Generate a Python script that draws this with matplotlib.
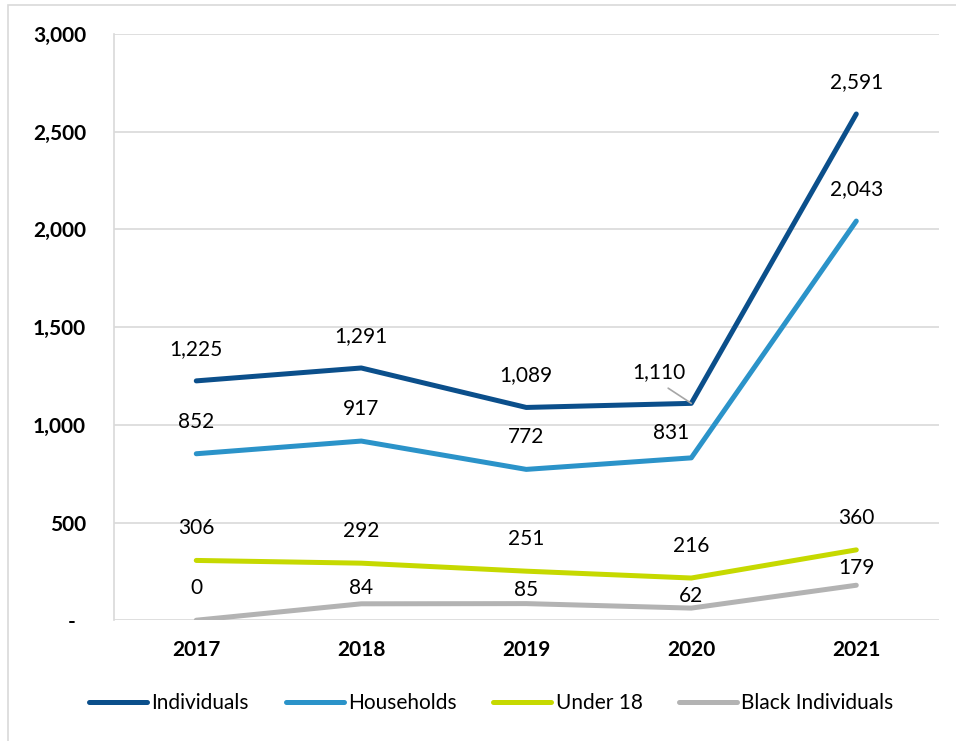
import matplotlib.pyplot as plt
from matplotlib.patches import Rectangle

years = ['2017', '2018', '2019', '2020', '2021']
individuals = [1225, 1291, 1089, 1110, 2591]
households = [852, 917, 772, 831, 2043]
under_18 = [306, 292, 251, 216, 360]
black_individuals = [0, 84, 85, 62, 179]

series_names = ['Individuals', 'Households', 'Under 18', 'Black Individuals']
colors = ['#0B4F8B', '#2B93C9', '#C6D900', '#B3B3B3']

# label offsets in pixels (dx, dy) where they differ from the default
default_offset = (0, 32)
label_offsets = {
    ('Households', 3): (-20, 25),
    ('Black Individuals', 1): (0, 16),
    ('Black Individuals', 2): (0, 14),
    ('Black Individuals', 3): (0, 12),
    ('Black Individuals', 4): (0, 17),
}

plt.rcParams['font.family'] = ['Lato', 'DejaVu Sans']

fig = plt.figure(figsize=(9.56, 7.41), dpi=100)
ax = fig.add_axes([0.119, 0.163, 0.863, 0.791])

# outer chart frame (only top/left visible in reference)
fig.patches.append(Rectangle((8 / 956, -0.05), 1.2, 1 - 5 / 741 + 0.05,
                             transform=fig.transFigure, fill=False,
                             edgecolor='#D9D9D9', linewidth=1.2))

x = list(range(len(years)))
all_series = [individuals, households, under_18, black_individuals]
for vals, name, c in zip(all_series, series_names, colors):
    ax.plot(x, vals, color=c, linewidth=3.6, solid_capstyle='round', label=name, zorder=3)

# data labels
for vals, name in zip(all_series, series_names):
    for i, v in enumerate(vals):
        if name == 'Individuals' and i == 3:
            continue
        dx, dy = label_offsets.get((name, i), default_offset)
        ax.annotate(f'{v:,}', (i, v), xytext=(dx, dy), textcoords='offset pixels',
                    ha='center', va='center', fontsize=15)

# 1,110 label with leader line
ax.annotate('1,110', (3, individuals[3]), xytext=(-32, 31), textcoords='offset pixels',
            ha='center', va='center', fontsize=15,
            arrowprops=dict(arrowstyle='-', color='#A6A6A6', linewidth=1.2,
                            shrinkA=4, shrinkB=0, relpos=(0.5, 0)))

ax.set_xlim(-0.5, 4.5)
ax.set_ylim(0, 3000)
ax.set_yticks(range(0, 3001, 500))
ax.set_yticklabels(['-  '] + [f'{v:,}' for v in range(500, 3001, 500)],
                   fontsize=15, fontweight='bold')
ax.set_xticks(x)
ax.set_xticklabels(years, fontsize=15, fontweight='bold')
ax.tick_params(length=0)
ax.tick_params(axis='y', pad=20)
ax.tick_params(axis='x', pad=14)

ax.grid(axis='y', color='#D9D9D9', linewidth=1.2)
ax.set_axisbelow(True)
for side in ['top', 'right', 'bottom']:
    ax.spines[side].set_visible(False)
ax.spines['left'].set_color('#D9D9D9')
ax.spines['left'].set_linewidth(1.2)

fig.legend(loc='center', bbox_to_anchor=(0.514, 0.051), ncol=4, frameon=False,
           fontsize=15, handlelength=2.8, handletextpad=0.2, columnspacing=1.75)

fig.savefig('out.png', dpi=100)
